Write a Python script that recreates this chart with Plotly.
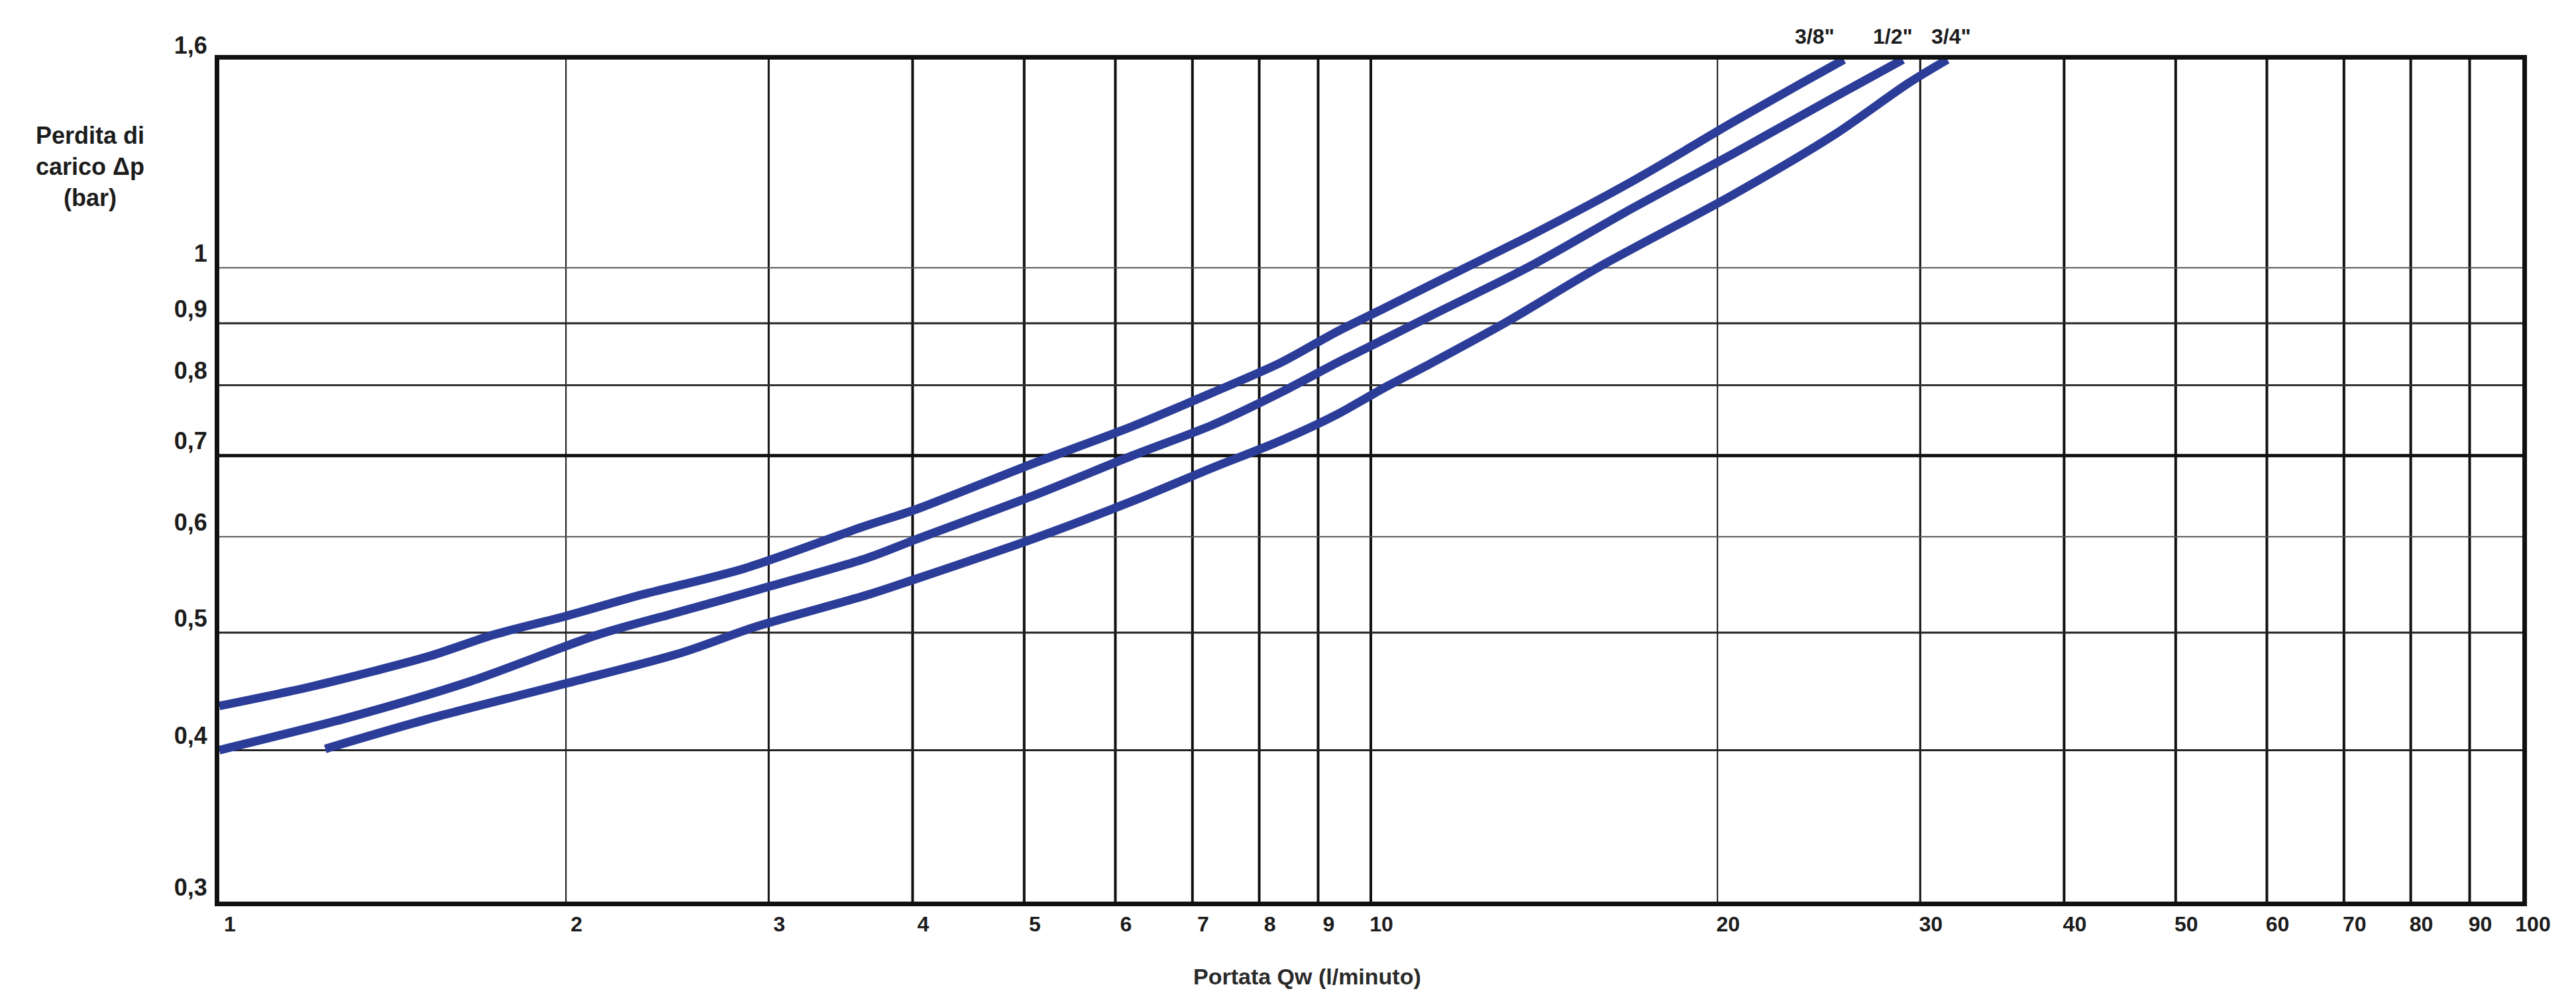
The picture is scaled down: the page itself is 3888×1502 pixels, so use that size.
import math
import plotly.graph_objects as go

# ---------------- data ----------------
# Portata Qw (l/minuto) and Perdita di carico (bar) for each connection size
q_38 = [1.0, 1.21, 1.52, 1.73, 2.0, 2.32, 2.86, 3.65, 4.01, 5.10, 6.21, 7.29,
        8.35, 9.35, 10.27, 11.25, 13.78, 16.88, 20.64, 23.66, 25.75]
dp_38 = [0.435, 0.452, 0.478, 0.498, 0.516, 0.537, 0.565, 0.613, 0.631, 0.690,
         0.740, 0.789, 0.835, 0.886, 0.926, 0.967, 1.064, 1.179, 1.319, 1.420, 1.485]

q_12 = [1.0, 1.283, 1.654, 2.131, 2.525, 2.925, 3.65, 4.01, 5.10, 6.21,
        7.29, 8.35, 9.35, 10.27, 11.25, 13.78, 16.88, 20.64, 25.31, 28.97]
dp_12 = [0.400, 0.4245, 0.456, 0.498, 0.521, 0.542, 0.576, 0.596, 0.649,
         0.700, 0.742, 0.789, 0.835, 0.873, 0.912, 1.004, 1.120, 1.242, 1.384, 1.485]

q_34 = [1.236, 1.52, 2.007, 2.525, 2.925, 3.65, 4.01, 5.10, 6.21, 7.29, 8.35,
        9.35, 10.27, 11.25, 13.14, 15.77, 20.64, 25.31, 29.3, 31.67]
dp_34 = [0.401, 0.4245, 0.4544, 0.4816, 0.5058, 0.537, 0.553, 0.598, 0.642, 0.684,
         0.720, 0.757, 0.796, 0.833, 0.903, 1.001, 1.149, 1.289, 1.420, 1.485]

series_names = ['3/8"', '1/2"', '3/4"']
label_x = [24.3, 28.4, 31.9]          # where the size labels sit above the frame

# axis ticks
x_tick_vals = [1, 2, 3, 4, 5, 6, 7, 8, 9, 10, 20, 30, 40, 50, 60, 70, 80, 90, 100]
x_tick_text = [str(v) for v in x_tick_vals]
y_top = 1.485                          # top of the (scanned) scale, labelled "1,6"
y_tick_vals = [0.3, 0.4, 0.5, 0.6, 0.7, 0.8, 0.9, 1.0, y_top]
y_tick_text = ["0,3", "0,4", "0,5", "0,6", "0,7", "0,8", "0,9", "1", "1,6"]

# grid lines
x_grid = [2, 3, 4, 5, 6, 7, 8, 9, 10, 20, 30, 40, 50, 60, 70, 80, 90]
y_grid = [0.4, 0.5, 0.6, 0.7, 0.8, 0.9, 1.0]

# ---------------- styles ----------------
x_grid_w = [2, 3, 4, 4, 4, 4, 4, 4, 4, 2, 3, 4, 4, 4, 4, 4, 4]
y_grid_w = [3, 3, 2, 5, 3, 3, 2]
y_grid_c = ["#222", "#222", "#555", "#111", "#333", "#222", "#555"]
curve_color = "#2b3d98"
txt_color = "#1c1c1c"

fig = go.Figure()

for q, dp, name in [(q_38, dp_38, series_names[0]),
                    (q_12, dp_12, series_names[1]),
                    (q_34, dp_34, series_names[2])]:
    fig.add_trace(go.Scatter(
        x=q, y=dp, mode="lines", name=name,
        line=dict(color=curve_color, width=13, shape="spline", smoothing=0.8),
        hoverinfo="skip"))

shapes = []
for v, w in zip(x_grid, x_grid_w):
    shapes.append(dict(type="line", xref="x", yref="paper", x0=v, x1=v, y0=0, y1=1,
                       line=dict(color="#111", width=w), layer="below"))
for v, w, c in zip(y_grid, y_grid_w, y_grid_c):
    shapes.append(dict(type="line", xref="paper", yref="y", x0=0, x1=1, y0=v, y1=v,
                       line=dict(color=c, width=w), layer="below"))

annotations = [
    dict(text="Perdita di<br>carico \u0394p<br>(bar)", xref="paper", yref="paper",
         x=-0.0561, y=0.8733, xanchor="center", yanchor="middle", showarrow=False,
         align="center",
         font=dict(family="Liberation Sans, Arial", size=36, color=txt_color, weight=700)),
    dict(text="Portata Qw (l/minuto)", xref="paper", yref="paper",
         x=0.4724, y=-0.089, xanchor="center", yanchor="middle", showarrow=False,
         font=dict(family="Liberation Sans, Arial", size=34, color="#2a2a2a", weight=700)),
]
for name, lx in zip(series_names, label_x):
    annotations.append(dict(text=name, xref="x", yref="paper", x=math.log10(lx), y=1,
                            yshift=35, xanchor="center", yanchor="middle", showarrow=False,
                            font=dict(family="Liberation Sans, Arial", size=32,
                                      color=txt_color, weight=700)))

fig.update_layout(
    width=3888, height=1502,
    margin=dict(l=323, r=89, t=82, b=149),
    plot_bgcolor="white", paper_bgcolor="white",
    showlegend=False,
    shapes=shapes, annotations=annotations,
    font=dict(family="Liberation Sans, Arial", color=txt_color),
)
fig.update_xaxes(
    type="log", range=[0, 2],
    tickvals=x_tick_vals, ticktext=x_tick_text,
    showgrid=False, zeroline=False,
    showline=True, linewidth=7, linecolor="#111", mirror=True,
    ticks="", ticklabelshift=16, ticklabelstandoff=0,
    tickfont=dict(family="Liberation Sans Narrow, Liberation Sans", size=32,
                  color=txt_color, weight=700),
)
fig.update_yaxes(
    type="log", range=[math.log10(0.3), math.log10(y_top)],
    tickvals=y_tick_vals, ticktext=y_tick_text,
    showgrid=False, zeroline=False,
    showline=True, linewidth=7, linecolor="#111", mirror=True,
    ticks="", ticklabelshift=-22, ticklabelstandoff=4,
    tickfont=dict(family="Liberation Sans, Arial", size=36, color=txt_color, weight=700),
)

fig.write_html("out.html")
